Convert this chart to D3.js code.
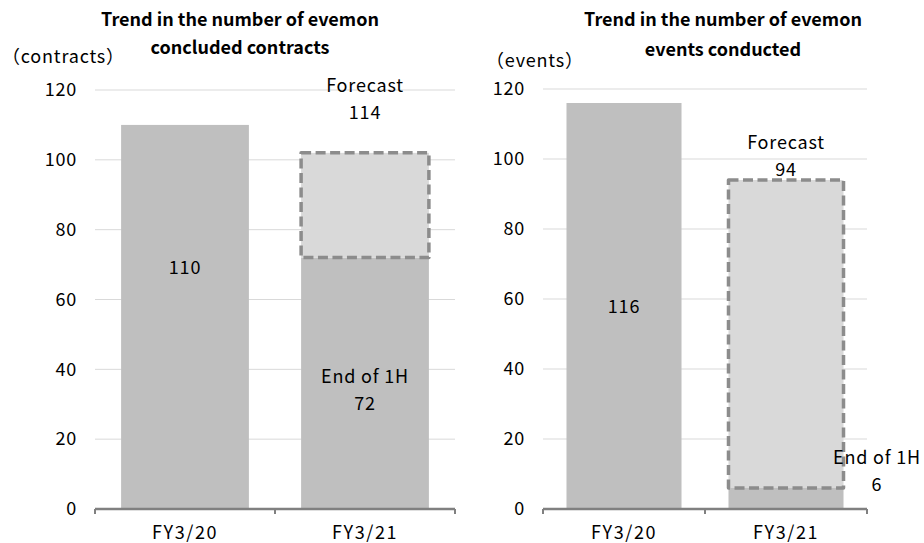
<!DOCTYPE html>
<html>
<head>
<meta charset="utf-8">
<script src="https://cdn.jsdelivr.net/npm/d3@7"></script>
<style>
  body { margin: 0; background: #fff; }
  svg text { font-family: "Noto Sans CJK JP", "Noto Sans", sans-serif; fill: #000; }
  svg text.reg { letter-spacing: 0.8px; }
</style>
</head>
<body>
<svg id="chart" width="924" height="543"></svg>
<script>
const categories = ["FY3/20", "FY3/21"]
const yTicks = [0, 20, 40, 60, 80, 100, 120]

// contracts chart
const contractsActual = [110, 72]
const contractsForecastTop = [null, 102]
const contractsForecastLabel = "114"

// events chart
const eventsActual = [116, 6]
const eventsForecastTop = [null, 94]
const eventsForecastLabel = "94"

const svg = d3.select("#chart")
const fs = 18

function drawChart(opts) {
  const g = svg.append("g")

  const x = d3.scaleBand()
    .domain(categories)
    .range([opts.left, opts.right])
    .paddingInner(0.29)
    .paddingOuter(0.145)

  const y = d3.scaleLinear()
    .domain([0, 120])
    .range([opts.bottom, opts.top])

  // gridlines
  g.selectAll(".grid")
    .data(yTicks.filter(d => d > 0))
    .join("line")
    .attr("x1", opts.left)
    .attr("x2", opts.right)
    .attr("y1", d => y(d))
    .attr("y2", d => y(d))
    .attr("stroke", "#d9d9d9")
    .attr("stroke-width", 1)

  // y tick labels
  g.selectAll(".ytick")
    .data(yTicks)
    .join("text")
    .attr("class", "reg")
    .attr("x", opts.left - 18)
    .attr("y", d => y(d))
    .attr("dy", "0.35em")
    .attr("text-anchor", "end")
    .attr("font-size", fs)
    .text(d => d)

  // actual bars
  g.selectAll(".bar")
    .data(categories)
    .join("rect")
    .attr("x", d => x(d))
    .attr("width", x.bandwidth())
    .attr("y", (d, i) => y(opts.actual[i]))
    .attr("height", (d, i) => y(0) - y(opts.actual[i]))
    .attr("fill", "#bfbfbf")

  // forecast boxes
  categories.forEach((c, i) => {
    const top = opts.forecastTop[i]
    if (top == null) return
    g.append("rect")
      .attr("x", x(c))
      .attr("width", x.bandwidth())
      .attr("y", y(top))
      .attr("height", y(opts.actual[i]) - y(top))
      .attr("fill", "#d9d9d9")
      .attr("stroke", "#8c8c8c")
      .attr("stroke-width", 3.5)
      .attr("stroke-dasharray", "10,4.5")
      .attr("stroke-linejoin", "round")
  })

  // x axis
  const ax = g.append("g")
    .attr("transform", `translate(0,${opts.bottom})`)
  ax.append("line")
    .attr("x1", opts.left).attr("x2", opts.right)
    .attr("stroke", "#808080").attr("stroke-width", 2.5)
  ax.selectAll(".tk")
    .data([opts.left, (opts.left + opts.right) / 2, opts.right])
    .join("line")
    .attr("x1", d => d).attr("x2", d => d)
    .attr("y1", 0).attr("y2", 5)
    .attr("stroke", "#808080").attr("stroke-width", 2)
  ax.selectAll(".xl")
    .data(categories)
    .join("text")
    .attr("class", "reg")
    .attr("x", d => x(d) + x.bandwidth() / 2)
    .attr("y", 24)
    .attr("dy", "0.35em")
    .attr("text-anchor", "middle")
    .attr("font-size", fs)
    .style("letter-spacing", "1.6px")
    .text(d => d)

  // title
  opts.title.forEach((t, i) => {
    g.append("text")
      .attr("x", opts.titleX)
      .attr("y", opts.titleY + i * opts.titleGap)
      .attr("text-anchor", "middle")
      .attr("font-size", 18)
      .attr("font-weight", "bold")
      .text(t)
  })

  // unit
  g.append("text")
    .attr("class", "reg")
    .attr("x", opts.unitX)
    .attr("y", opts.unitY)
    .attr("dy", "0.35em")
    .attr("font-size", fs)
    .text(opts.unit)

  // value labels
  const label = (x0, y0, txt) => g.append("text")
    .attr("class", "reg")
    .attr("x", x0).attr("y", y0)
    .attr("dy", "0.35em").attr("text-anchor", "middle").attr("font-size", fs)
    .text(txt)

  const c0 = x(categories[0]) + x.bandwidth() / 2
  const c1 = x(categories[1]) + x.bandwidth() / 2
  label(c0, opts.valueY, opts.actual[0])

  const f = opts.forecastLabelPos
  label(c1 + f.dx, f.y, "Forecast")
  label(c1 + f.dx, f.y + 27, opts.forecastLabel)

  const e = opts.endLabelPos
  label(c1 + e.dx, e.y, "End of 1H")
  label(c1 + e.dx, e.y + 27, opts.actual[1])
}

drawChart({
  left: 95, right: 455, top: 90, bottom: 509,
  actual: contractsActual,
  forecastTop: contractsForecastTop,
  forecastLabel: contractsForecastLabel,
  title: ["Trend in the number of evemon", "concluded contracts"],
  titleX: 240, titleY: 26, titleGap: 28,
  unit: "（contracts）", unitX: 2, unitY: 57,
  valueY: 268,
  forecastLabelPos: { dx: 0, y: 86 },
  endLabelPos: { dx: 0, y: 377 }
})

drawChart({
  left: 543, right: 867, top: 89, bottom: 509,
  actual: eventsActual,
  forecastTop: eventsForecastTop,
  forecastLabel: eventsForecastLabel,
  title: ["Trend in the number of evemon", "events conducted"],
  titleX: 723, titleY: 26, titleGap: 30,
  unit: "（events）", unitX: 486, unitY: 61,
  valueY: 307,
  forecastLabelPos: { dx: 0, y: 143 },
  endLabelPos: { dx: 91, y: 458 }
})
</script>
</body>
</html>
